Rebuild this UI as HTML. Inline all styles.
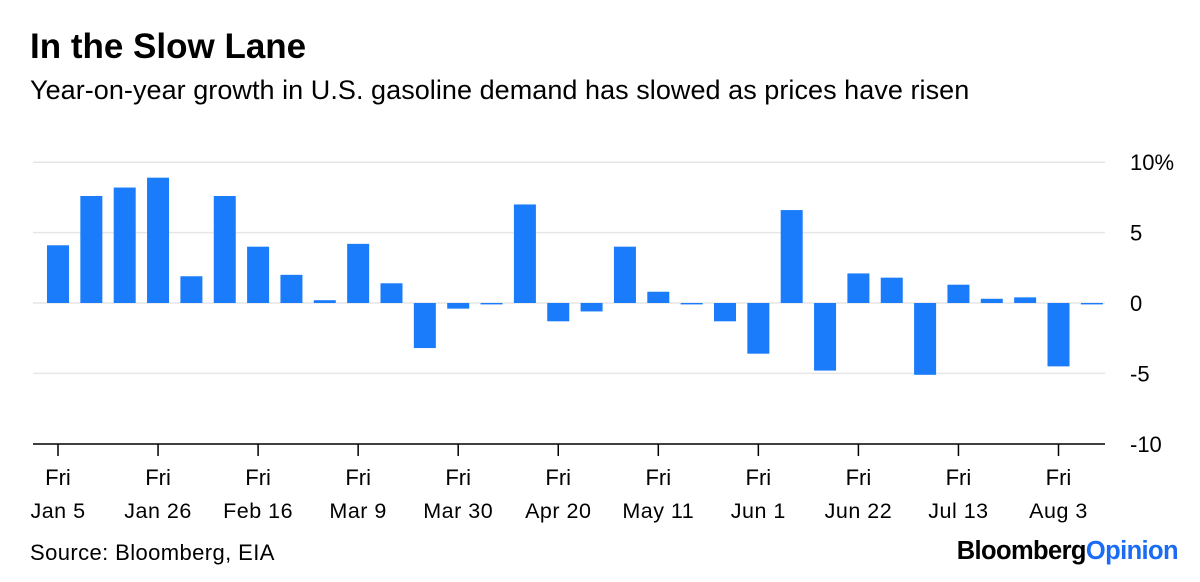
<!DOCTYPE html>
<html><head><meta charset="utf-8">
<style>
body{margin:0;background:#fff;font-family:"Liberation Sans",sans-serif;}
#wrap{position:relative;width:1200px;height:582px;overflow:hidden;}
.t{position:absolute;color:#000;white-space:nowrap;}
</style></head><body>
<div id="wrap">
<div class="t" style="left:30px;top:27px;font-size:35px;font-weight:bold;">In the Slow Lane</div>
<div class="t" style="left:30px;top:75px;font-size:27px;letter-spacing:0.05px;">Year-on-year growth in U.S. gasoline demand has slowed as prices have risen</div>
<svg id="chart" width="1200" height="582" style="position:absolute;left:0;top:0"></svg>
<div class="t" style="left:30px;top:540px;font-size:22px;letter-spacing:0.4px;">Source: Bloomberg, EIA</div>
<div class="t" style="right:22px;top:537px;font-size:25.5px;font-weight:bold;letter-spacing:-0.6px;">Bloomberg<span style="color:#1a6cf5">Opinion</span></div>
</div>
<script>
const categories=["Jan 5","Jan 12","Jan 19","Jan 26","Feb 2","Feb 9","Feb 16","Feb 23","Mar 2","Mar 9","Mar 16","Mar 23","Mar 30","Apr 6","Apr 13","Apr 20","Apr 27","May 4","May 11","May 18","May 25","Jun 1","Jun 8","Jun 15","Jun 22","Jun 29","Jul 6","Jul 13","Jul 20","Jul 27","Aug 3","Aug 10"];
const values=[4.1,7.6,8.2,8.9,1.9,7.6,4.0,2.0,0.2,4.2,1.4,-3.2,-0.4,-0.1,7.0,-1.3,-0.6,4.0,0.8,-0.1,-1.3,-3.6,6.6,-4.8,2.1,1.8,-5.1,1.3,0.3,0.4,-4.5,-0.1];
const yTicks=[10,5,0,-5,-10];
const yTickLabels=["10%","5","0","-5","-10"];
const xLabelIdx=[0,3,6,9,12,15,18,21,24,27,30];
const svg=document.getElementById('chart');
const NS='http://www.w3.org/2000/svg';
const x0=58,step=33.35,bw=22;
const yScale=v=>303-v*14.08;
const xScale=i=>x0+i*step;
function mk(tag,attrs){const e=document.createElementNS(NS,tag);for(const k in attrs)e.setAttribute(k,attrs[k]);svg.appendChild(e);return e;}
yTicks.forEach((t,i)=>{
  const y=yScale(t);
  if(t!==-10){const g=mk('line',{x1:33,x2:1105,y1:y,y2:y,stroke:'#e6e6e6','stroke-width':1.5});
  
  }
  const l=mk('text',{x:1130,y:y+8,'font-size':22,'font-family':'Liberation Sans, sans-serif',fill:'#000'});
  l.textContent=yTickLabels[i];
  
  
});
values.forEach((v,i)=>{
  const y=yScale(Math.max(v,0)),h=Math.max(Math.abs(yScale(v)-yScale(0)),1);
  const r=mk('rect',{x:xScale(i)-bw/2,y:y,width:bw,height:h,fill:'#1a7cfa'});
  
  
});
const ax=mk('line',{x1:33,x2:1105,y1:444,y2:444,stroke:'#000','stroke-width':1.5});


xLabelIdx.forEach(i=>{
  const x=xScale(i);
  const tk=mk('line',{x1:x,x2:x,y1:444,y2:456,stroke:'#000','stroke-width':1.5});
  
  
  const a=mk('text',{x:x,y:485,'text-anchor':'middle','font-size':22,'font-family':'Liberation Sans, sans-serif'});
  a.textContent='Fri';
  
  
  const b=mk('text',{x:x,y:518,'text-anchor':'middle','font-size':21.5,'letter-spacing':'0.5','font-family':'Liberation Sans, sans-serif'});
  b.textContent=categories[i];
  
  
});
</script>
</body></html>
